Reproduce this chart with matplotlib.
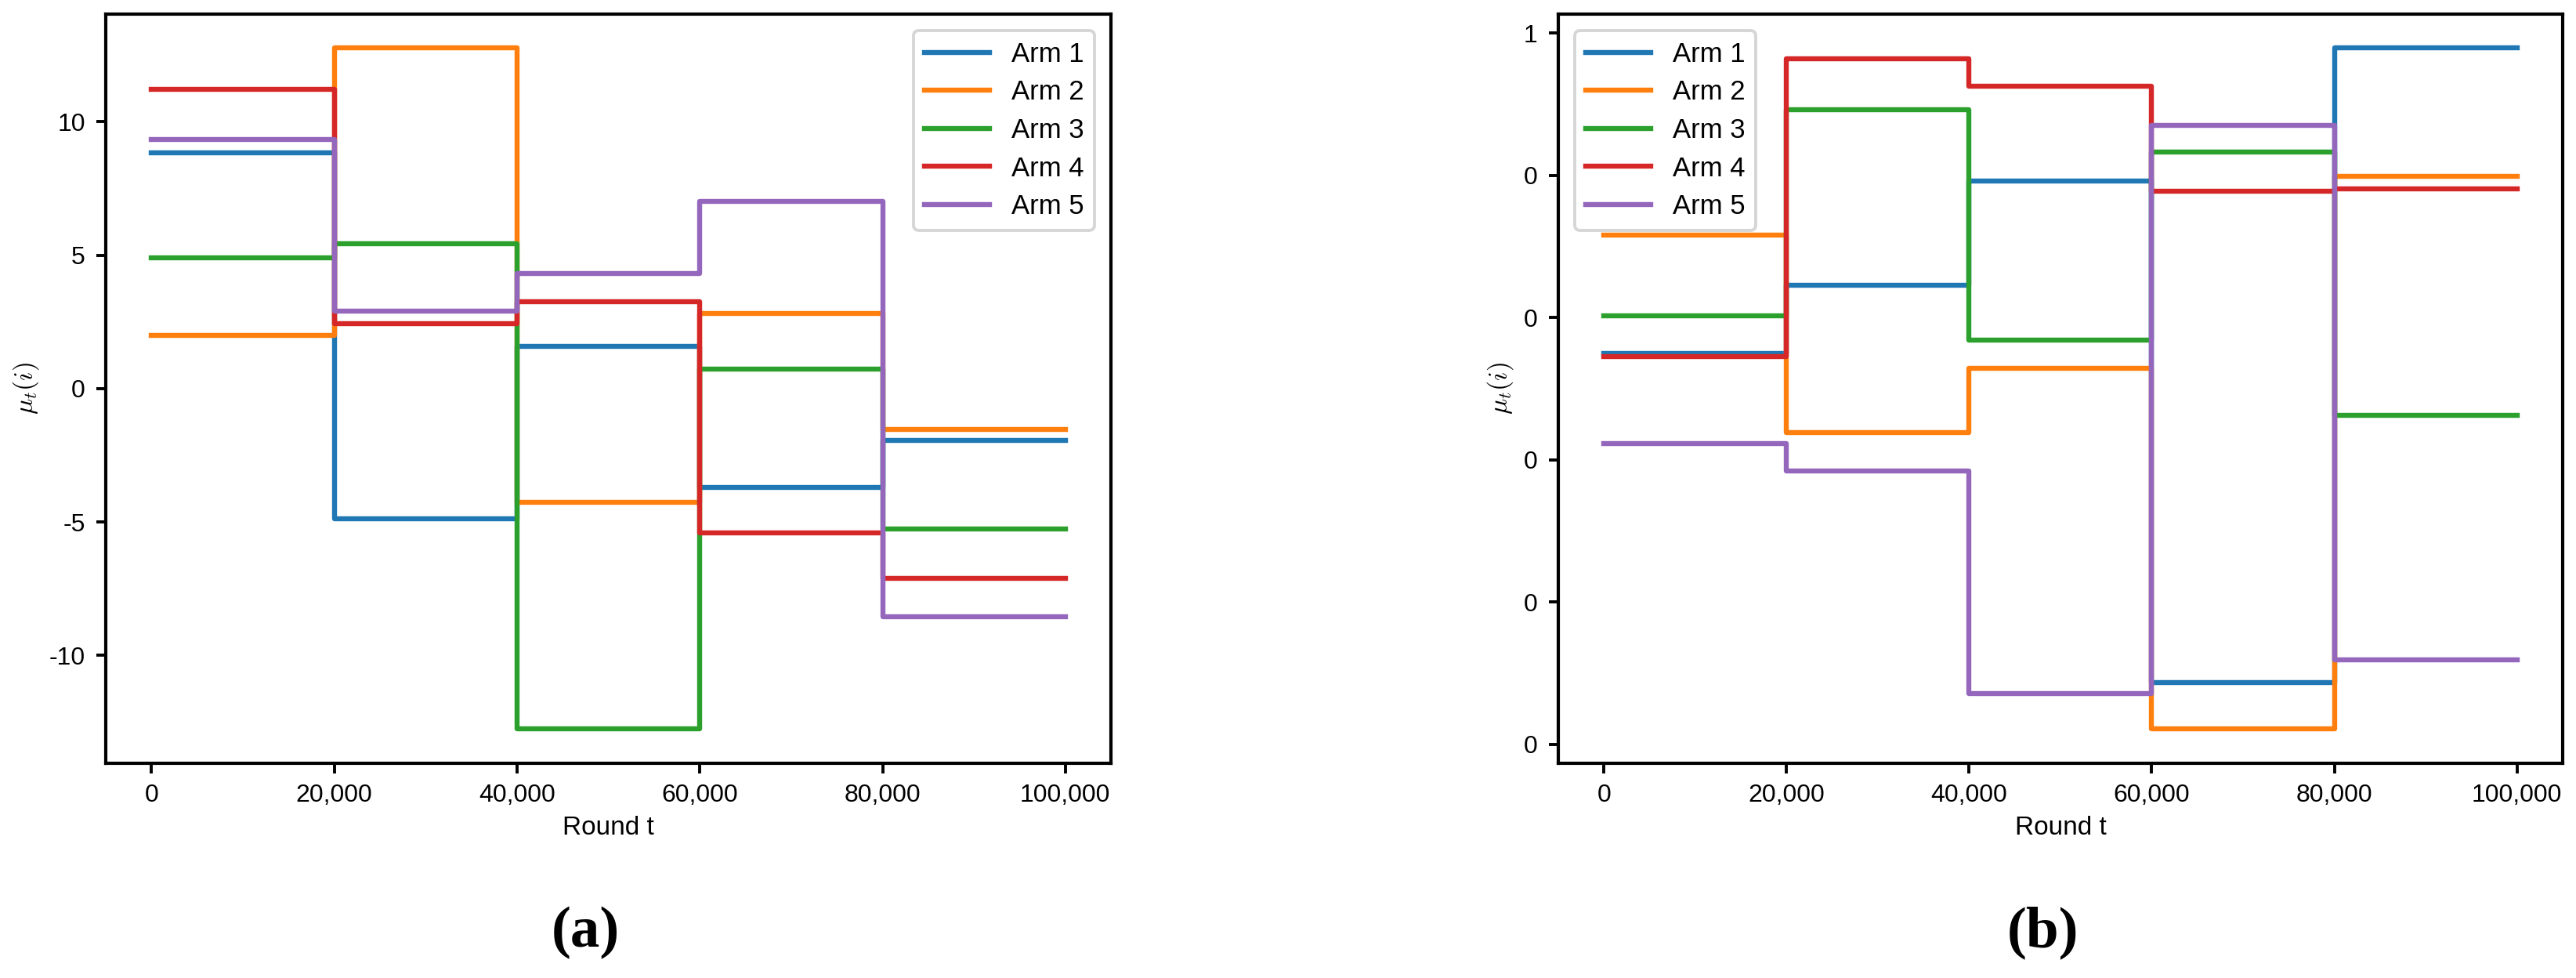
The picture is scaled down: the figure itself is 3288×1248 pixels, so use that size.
import numpy as np
import matplotlib
matplotlib.use('Agg')
import matplotlib.pyplot as plt
from matplotlib.ticker import FuncFormatter

plt.rcParams['font.family'] = ['Liberation Sans', 'DejaVu Sans']
plt.rcParams['mathtext.fontset'] = 'cm'

# change points of the piecewise constant means
rounds = [0, 20000, 40000, 60000, 80000, 100000]
arm_names = ['Arm 1', 'Arm 2', 'Arm 3', 'Arm 4', 'Arm 5']

# (a) means per segment, one list per arm
mu_a_arm1 = [8.83, -4.88, 1.57, -3.71, -1.94]
mu_a_arm2 = [1.99, 12.76, -4.25, 2.83, -1.52]
mu_a_arm3 = [4.91, 5.42, -12.76, 0.72, -5.26]
mu_a_arm4 = [11.21, 2.43, 3.27, -5.40, -7.10]
mu_a_arm5 = [9.35, 2.90, 4.32, 7.01, -8.55]

# (b) means per segment
mu_b_arm1 = [0.550, 0.645, 0.792, 0.087, 0.979]
mu_b_arm2 = [0.716, 0.438, 0.529, 0.021, 0.799]
mu_b_arm3 = [0.602, 0.892, 0.568, 0.833, 0.462]
mu_b_arm4 = [0.545, 0.964, 0.925, 0.778, 0.781]
mu_b_arm5 = [0.423, 0.384, 0.071, 0.870, 0.119]

yticks_a = [-10, -5, 0, 5, 10]
yticks_b = [0, 0.2, 0.4, 0.6, 0.8, 1.0]
xticks = [0, 20000, 40000, 60000, 80000, 100000]

fig = plt.figure(figsize=(16.44, 6.24), dpi=200)
ax1 = fig.add_axes([0.0411, 0.2196, 0.3902, 0.766])
ax2 = fig.add_axes([0.6049, 0.2196, 0.3899, 0.766])


def draw(ax, arms, yticks, legend_loc):
    for vals, name in zip(arms, arm_names):
        ax.step(rounds, vals + [vals[-1]], where='post', lw=2.3, label=name)
    ax.set_xticks(xticks)
    ax.set_yticks(yticks)
    ax.xaxis.set_major_formatter(FuncFormatter(lambda v, p: f"{int(round(v)):,}"))
    ax.yaxis.set_major_formatter(FuncFormatter(lambda v, p: f"{int(round(v, 6))}"))
    ax.tick_params(labelsize=11.5, width=1.4, length=4.5, pad=5)
    for s in ax.spines.values():
        s.set_linewidth(1.5)
    ax.set_xlabel('Round t', fontsize=12, labelpad=4)
    ax.set_ylabel(r'$\mu_t(i)$', fontsize=12)
    leg = ax.legend(loc=legend_loc, fontsize=12.5, handlelength=2.4,
                    labelspacing=0.45, borderaxespad=0.6)
    leg.get_frame().set_linewidth(1.4)


draw(ax1, [mu_a_arm1, mu_a_arm2, mu_a_arm3, mu_a_arm4, mu_a_arm5], yticks_a, 'upper right')
draw(ax2, [mu_b_arm1, mu_b_arm2, mu_b_arm3, mu_b_arm4, mu_b_arm5], yticks_b, 'upper left')

# subfigure captions
fig.text(747 / 3288, 1 - 1190 / 1248, '(a)', ha='center', va='center',
         fontsize=27, fontweight='bold', family='Liberation Serif')
fig.text(2607 / 3288, 1 - 1190 / 1248, '(b)', ha='center', va='center',
         fontsize=27, fontweight='bold', family='Liberation Serif')

fig.savefig('out.png', dpi=200)
